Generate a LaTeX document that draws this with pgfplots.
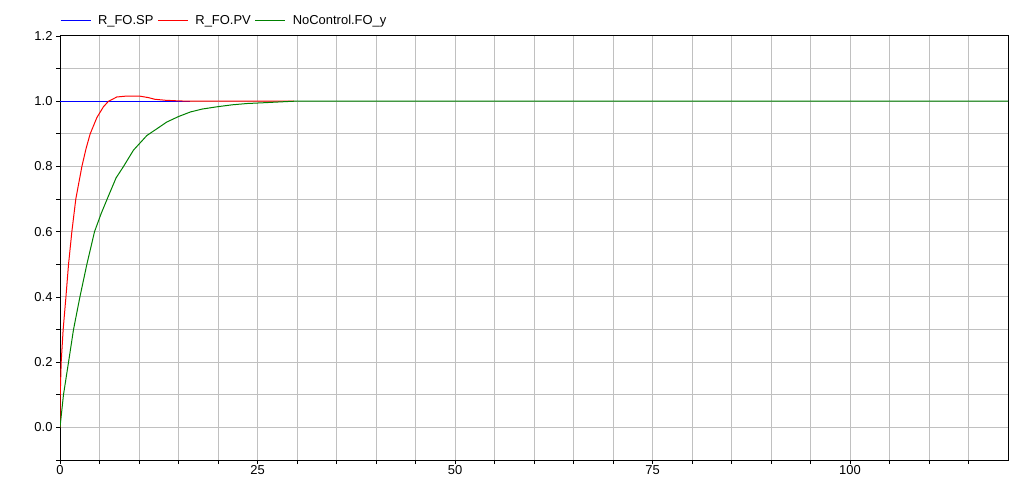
\documentclass[border=0pt]{standalone}
\usepackage{fontspec}
\setmainfont{Liberation Sans}
\usepackage{pgfplots}
\pgfplotsset{compat=1.18}
\definecolor{gridgray}{RGB}{192,192,192}
\definecolor{spblue}{RGB}{0,0,255}
\definecolor{pvred}{RGB}{255,0,0}
\definecolor{fogreen}{RGB}{0,128,0}

\begin{document}
\begin{tikzpicture}[x=1bp,y=1bp]
\begin{axis}[
  scale only axis, width=948bp, height=424bp,
  xmin=0, xmax=120, ymin=-0.1, ymax=1.2,
  xtick={0,25,50,75,100},
  minor xtick={5,10,15,20,30,35,40,45,55,60,65,70,80,85,90,95,105,110,115},
  ytick={0,0.2,0.4,0.6,0.8,1.0,1.2},
  minor ytick={-0.1,0.1,0.3,0.5,0.7,0.9,1.1},
  xtick pos=bottom, ytick pos=left,
  tick align=outside, major tick length=4bp, minor tick length=4bp,
  tick style={black, line width=0.8bp},
  grid=both,
  major grid style={draw=gridgray, line width=1bp},
  minor grid style={draw=gridgray, line width=1bp},
  axis line style={black, line width=1bp},
  tick label style={font=\fontsize{13}{15}\selectfont},
  /pgf/number format/assume math mode=true,
  yticklabel style={/pgf/number format/.cd, fixed, fixed zerofill, precision=1},
  xticklabel style={inner ysep=1.5bp},
  legend columns=3,
  legend style={draw=none, fill=none, inner sep=0pt, outer sep=0pt,
    at={(rel axis cs:0,1.036)}, anchor=west,
    font=\fontsize{13}{15}\selectfont,
    nodes={inner xsep=4bp, inner ysep=1bp},
    column sep=0pt,
    /tikz/every odd column/.append style={column sep=3bp}},
  legend image code/.code={\draw[#1] (0bp,0bp) -- (30bp,0bp);},
  legend cell align=left,
]
\addplot[spblue, line width=1bp] coordinates {(0,1) (16.5,1)};
\addlegendentry{R\_FO.SP}
\addplot[pvred, line width=1bp] coordinates {
(0,0) (0.03,0.1) (0.15,0.2) (0.4,0.3) (0.75,0.4) (1.08,0.5) (1.5,0.6)
(2.0,0.7) (2.77,0.8) (3.3,0.855) (3.82,0.9) (4.67,0.95) (5.5,0.983) (6.14,1.0)
(7.2,1.013) (8.5,1.016) (10,1.016) (11.2,1.011) (12,1.006) (13.3,1.003)
(15,1.001) (16.5,1.0) (29.6,1.0)};
\addlegendentry{R\_FO.PV}
\addplot[fogreen, line width=1bp] coordinates {
(0,0) (0.44,0.1) (1.08,0.2) (1.71,0.3) (2.52,0.4) (3.4,0.5) (4.37,0.6)
(5.2,0.655) (6.14,0.71) (7.1,0.765) (8.04,0.8) (9.3,0.85) (11,0.895)
(12.05,0.912) (13.5,0.936) (15,0.953) (16.5,0.967) (18,0.976) (19.9,0.983)
(21.8,0.989) (23.7,0.993) (25.5,0.995) (27.1,0.997) (29.6,1.0) (120,1.0)};
\addlegendentry{NoControl.FO\_y}
\coordinate (bbl) at (rel axis cs:-0.0633,-0.0495);
\coordinate (btr) at (rel axis cs:1.0274,1.0849);
\end{axis}
\useasboundingbox (bbl) rectangle (btr);
\end{tikzpicture}
\end{document}
